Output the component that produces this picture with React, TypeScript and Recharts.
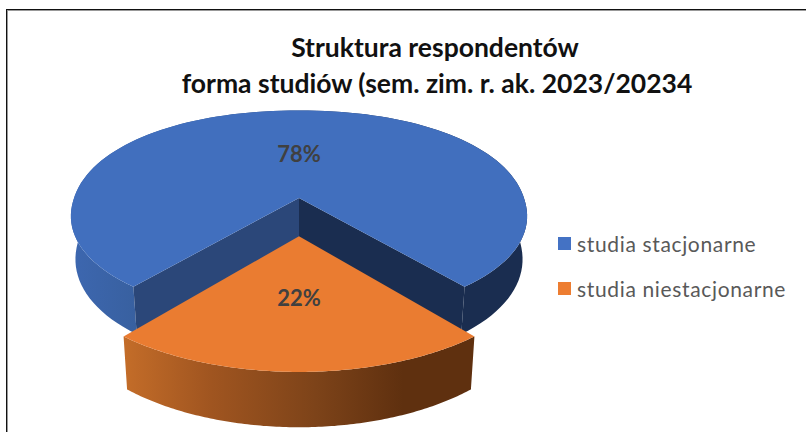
import { PieChart, Pie, Legend } from "recharts";

const categories = ["studia stacjonarne", "studia niestacjonarne"];
const shares = [78, 22];
const titleLines = ["Struktura respondentów", "forma studiów (sem. zim. r. ak. 2023/20234"];
const topColors = ["#416fbe", "#ea7c31"];
const legendColors = ["#4472c4", "#ed7d31"];

const data = categories.map((name, i) => ({ name, value: shares[i], index: i }));

// fake 3D: the pie plane is tilted and viewed with a bit of perspective
const PERSPECTIVE = 0.149;
const SQUASH = 0.447;
const DEPTH = [42, 44];
const EXPLODE = [0, 0.36];
const SPREAD = [1, 1.015];
const ROUNDNESS = [0.955, 1]; // <1 makes the outline a little fuller than an ellipse
const WALL_SHRINK = [0.98, 0.98];
const LABEL_RADIUS = [0.47, 0.505];

function project(cx: number, cy: number, r: number, u: number, v: number) {
  const d = 1 - PERSPECTIVE * v;
  return { x: cx + (r * u) / d, y: cy + (r * SQUASH * v) / d, d };
}

const bend = (c: number, q: number) => Math.sign(c) * Math.pow(Math.abs(c), q);

function arcPoints(p: any, idx: number) {
  const pts = [];
  const steps = 120;
  for (let i = 0; i <= steps; i++) {
    const a = ((p.startAngle + ((p.endAngle - p.startAngle) * i) / steps) * Math.PI) / 180;
    pts.push({
      u: SPREAD[idx] * bend(Math.cos(a), ROUNDNESS[idx]),
      v: -SPREAD[idx] * bend(Math.sin(a), ROUNDNESS[idx]) + EXPLODE[idx],
    });
  }
  return pts;
}

const toPath = (pts: { x: number; y: number }[]) =>
  "M" + pts.map((q) => `${q.x.toFixed(2)},${q.y.toFixed(2)}`).join("L") + "Z";

function Slice3D(props: any) {
  const { cx, cy, outerRadius: r, payload } = props;
  const idx = payload.index;
  const shrink = WALL_SHRINK[idx];
  const arc = arcPoints(props, idx);
  const top = arc.map((a) => project(cx, cy, r, a.u, a.v));
  const lower = (q: { x: number; y: number; d: number }) => ({
    x: cx + (q.x - cx) * shrink,
    y: q.y + DEPTH[idx] / q.d,
    d: q.d,
  });
  const bottom = top.map(lower);
  const apex = project(cx, cy, r, 0, EXPLODE[idx]);
  const apexLow = lower(apex);
  // one quad per step, in a single path, so the side silhouette has no notch
  const wall = top
    .slice(1)
    .map((q, i) => toPath([top[i], q, bottom[i + 1], bottom[i]]))
    .join("");
  const surface = toPath([apex, ...top]);
  return (
    <g>
      <path d={wall} fill={`url(#wall${idx})`} />
      {idx === 0 && (
        <>
          <path d={toPath([apex, top[top.length - 1], bottom[bottom.length - 1], apexLow])} fill="#2b4779" />
          <path d={toPath([apex, top[0], bottom[0], apexLow])} fill="#1a2d50" />
        </>
      )}
      <path d={surface} fill={topColors[idx]} />
    </g>
  );
}

function SliceLabel(props: any) {
  const { cx, cy, outerRadius: r, midAngle, percent, payload } = props;
  const idx = payload.index;
  const a = (midAngle * Math.PI) / 180;
  const q = project(cx, cy, r, LABEL_RADIUS[idx] * Math.cos(a), -LABEL_RADIUS[idx] * Math.sin(a) + EXPLODE[idx]);
  return (
    <text x={q.x} y={q.y} textAnchor="middle" dominantBaseline="central" fontFamily="Lato" fontWeight={700} fontSize={22} fill="#404040">
      {Math.round(percent * 100)}%
    </text>
  );
}

function LegendBox({ payload }: any) {
  return (
    <div>
      {(payload || []).map((entry: any, i: number) => (
        <div key={entry.value} style={{ position: "absolute", left: 0, top: i * 45, height: 24, whiteSpace: "nowrap" }}>
          <span style={{ position: "absolute", left: 0, top: 5, width: 13, height: 13, background: legendColors[i] }} />
          <span style={{ position: "absolute", left: 19, top: 0, fontFamily: "Lato", fontSize: 21, lineHeight: "24px", letterSpacing: 0.65, color: "#595959" }}>
            {entry.value}
          </span>
        </div>
      ))}
    </div>
  );
}

export default function App() {
  return (
    <div style={{ position: "absolute", left: 0, top: 0, width: 806, height: 432, overflow: "hidden", background: "#fff" }}>
      <div style={{ position: "absolute", left: 6, top: 9, width: 900, height: 600, border: "1px solid #111", boxShadow: "inset 1px 1px 0 #999" }} />
      <div style={{ position: "absolute", left: 0, top: 0 }}>
        <PieChart width={806} height={432} margin={{ top: 0, right: 0, bottom: 0, left: 0 }}>
          <defs>
            <linearGradient id="wall0" gradientUnits="userSpaceOnUse" x1="70" y1="0" x2="527" y2="0">
              <stop offset="0" stopColor="#3d67b0" />
              <stop offset="0.15" stopColor="#38609f" />
              <stop offset="0.8" stopColor="#1a2d50" />
              <stop offset="1" stopColor="#1a2d50" />
            </linearGradient>
            <linearGradient id="wall1" gradientUnits="userSpaceOnUse" x1="123" y1="0" x2="473" y2="0">
              <stop offset="0" stopColor="#c46d29" />
              <stop offset="0.25" stopColor="#a05520" />
              <stop offset="0.55" stopColor="#7d4319" />
              <stop offset="0.8" stopColor="#5f300f" />
              <stop offset="1" stopColor="#5f300f" />
            </linearGradient>
          </defs>
          <text textAnchor="middle" fontFamily="Lato" fontWeight={700} fontSize={26.5} fill="#111">
            <tspan x={435} y={57}>{titleLines[0]}</tspan>
            <tspan x={437} y={93}>{titleLines[1]}</tspan>
          </text>
          <Pie
            data={data}
            dataKey="value"
            nameKey="name"
            cx={299}
            cy={198}
            outerRadius={225}
            startAngle={-50.4}
            endAngle={309.6}
            paddingAngle={0}
            shape={Slice3D}
            label={SliceLabel}
            labelLine={false}
            isAnimationActive={false}
          />
          <Legend content={LegendBox} itemSorter={null} wrapperStyle={{ left: 558, top: 232, width: 240, height: 80 }} />
        </PieChart>
      </div>
    </div>
  );
}
